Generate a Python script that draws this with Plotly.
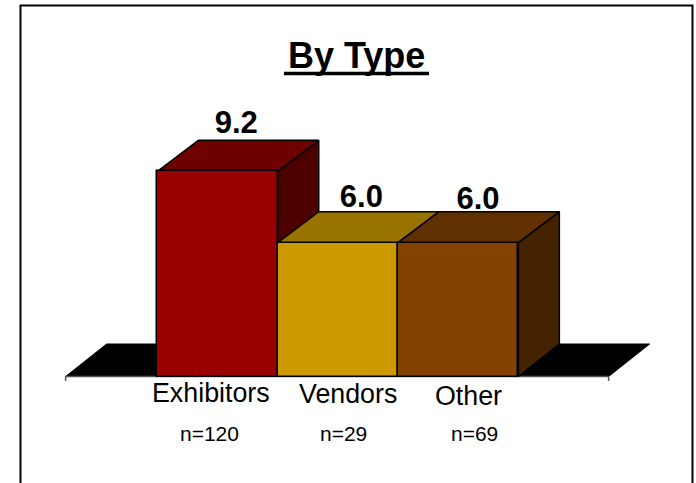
import plotly.graph_objects as go

# Survey scores by respondent type
categories = ["Exhibitors", "Vendors", "Other"]
sample_sizes = ["n=120", "n=29", "n=69"]
values = [9.2, 6.0, 6.0]
value_labels = ["9.2", "6.0", "6.0"]

front_colors = ["#990000", "#cc9900", "#844200"]
top_colors = ["#6e0000", "#997300", "#603000"]
side_colors = ["#4d0000", "#6b5000", "#452200"]

WIDTH, HEIGHT = 696, 483
FONT = "Liberation Sans, Arial, sans-serif"

# Page-to-data scale: one category is about 120 px, one score point about 22.3 px
PX_PER_CAT = 120.3
PX_PER_UNIT = 22.3
ORIGIN_X, ORIGIN_Y = 217.6, 376.5
DEPTH_X = 41.0 / PX_PER_CAT
DEPTH_Y = 31.0 / PX_PER_UNIT
FLOOR_DEPTH_Y = 32.5 / PX_PER_UNIT
BAR_WIDTH = 1.0

x_range = [-ORIGIN_X / PX_PER_CAT, (WIDTH - ORIGIN_X) / PX_PER_CAT]
y_range = [-(HEIGHT - ORIGIN_Y) / PX_PER_UNIT, ORIGIN_Y / PX_PER_UNIT]
positions = list(range(len(categories)))
floor_left, floor_right = -152.0 / PX_PER_CAT, 391.0 / PX_PER_CAT

fig = go.Figure()


def polygon(xs, ys, fill, line_width=1.5):
    fig.add_trace(go.Scatter(
        x=xs + xs[:1], y=ys + ys[:1], mode="lines", fill="toself",
        fillcolor=fill, line=dict(color="#000000", width=line_width),
        hoverinfo="skip", showlegend=False, xaxis="x", yaxis="y",
    ))


# Black floor behind the bars
polygon(
    [floor_left, floor_right, floor_right + DEPTH_X, floor_left + DEPTH_X],
    [0, 0, FLOOR_DEPTH_Y, FLOOR_DEPTH_Y],
    "#000000", 1,
)

# Axis line and its two end ticks along the front of the floor
fig.add_trace(go.Scatter(
    x=[floor_left, floor_left, None, floor_left, floor_right, None, floor_right, floor_right],
    y=[-0.2, 0, None, 0, 0, None, 0, -0.2],
    mode="lines", line=dict(color="#555555", width=1.5),
    hoverinfo="skip", showlegend=False, xaxis="x", yaxis="y",
))

# Side and top faces of each block, derived from its value
for pos, val, top, side in zip(positions, values, top_colors, side_colors):
    left, right = pos - BAR_WIDTH / 2, pos + BAR_WIDTH / 2
    polygon([right, right + DEPTH_X, right + DEPTH_X, right],
            [0, FLOOR_DEPTH_Y, val + DEPTH_Y, val], side)
    polygon([left, right, right + DEPTH_X, left + DEPTH_X],
            [val, val, val + DEPTH_Y, val + DEPTH_Y], top)

# Front faces sit on an overlaid axis pair so they cover the side faces
fig.add_trace(go.Bar(
    x=positions, y=values, width=BAR_WIDTH,
    marker=dict(color=front_colors, line=dict(color="#000000", width=1.5)),
    hoverinfo="skip", showlegend=False, xaxis="x2", yaxis="y2",
))

# Value labels above the back edge of each block
label_shift_x = [0.155, 0.195, 0.165]
label_drop_px = [0, 3, 5]
fig.add_trace(go.Scatter(
    x=[p + s for p, s in zip(positions, label_shift_x)],
    y=[v + DEPTH_Y - d / PX_PER_UNIT for v, d in zip(values, label_drop_px)],
    mode="text", text=value_labels, textposition="top center",
    textfont=dict(family=FONT, size=31, color="#000000"),
    texttemplate="<b>%{text}</b>",
    hoverinfo="skip", showlegend=False, xaxis="x2", yaxis="y2",
))

hidden = dict(visible=False, showgrid=False, zeroline=False, fixedrange=True)


def page_text(text, px, py, size):
    return dict(
        text=text, x=px / WIDTH, y=1 - py / HEIGHT, xref="paper", yref="paper",
        xanchor="center", yanchor="middle", showarrow=False,
        font=dict(family=FONT, size=size, color="#000000"),
    )


category_anchor = [(210.5, 393), (348, 394), (468, 396)]
sample_anchor = [(209.5, 433), (343.5, 433), (474, 433)]
annotations = [page_text("<b>By Type</b>", 356.5, 55, 36)]
annotations += [page_text(c, x, y, 26.8) for c, (x, y) in zip(categories, category_anchor)]
annotations += [page_text(s, x, y, 21) for s, (x, y) in zip(sample_sizes, sample_anchor)]

# Frame around the slide, open below the bottom of the page
frame = dict(type="path", xref="paper", yref="paper",
             path=f"M {20.5/WIDTH} 0 L {20.5/WIDTH} {1 - 5.5/HEIGHT} "
                  f"L {692.5/WIDTH} {1 - 5.5/HEIGHT} L {692.5/WIDTH} 0",
             line=dict(color="#000000", width=2))

# Heavy rule beneath the title
title_rule = dict(type="line", xref="paper", yref="paper",
                  x0=284 / WIDTH, x1=429 / WIDTH,
                  y0=1 - 73.5 / HEIGHT, y1=1 - 73.5 / HEIGHT,
                  line=dict(color="#000000", width=3.5))

fig.update_layout(
    width=WIDTH, height=HEIGHT, margin=dict(l=0, r=0, t=0, b=0),
    paper_bgcolor="#ffffff", plot_bgcolor="#ffffff",
    showlegend=False, bargap=0,
    xaxis=dict(range=x_range, domain=[0, 1], **hidden),
    yaxis=dict(range=y_range, domain=[0, 1], **hidden),
    xaxis2=dict(range=x_range, overlaying="x", anchor="y2", **hidden),
    yaxis2=dict(range=y_range, overlaying="y", anchor="x2", **hidden),
    annotations=annotations, shapes=[frame, title_rule],
)

fig.write_html("out.html", config=dict(displayModeBar=False))
